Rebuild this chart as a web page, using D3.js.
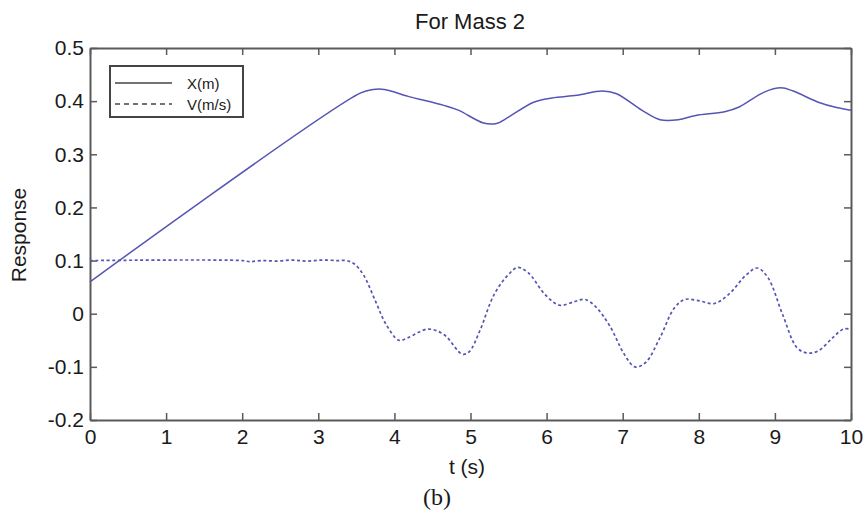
<!DOCTYPE html>
<html>
<head>
<meta charset="utf-8">
<script src="https://cdn.jsdelivr.net/npm/d3@7"></script>
<style>
  html, body { margin: 0; padding: 0; background: #fff; }
  svg { display: block; }
  text { font-family: "Liberation Sans", Arial, sans-serif; fill: #1a1a1a; }
</style>
</head>
<body>
<svg id="chart" width="864" height="521"></svg>
<script>
// Time samples and responses for mass 2
const dispT = [0, 3.55, 3.72, 3.87, 4.18, 4.65, 4.84, 5.17, 5.34, 5.50, 5.83, 6.07, 6.40, 6.73, 6.92, 7.25, 7.49, 7.73, 7.96, 8.34, 8.53, 8.86, 9.08, 9.24, 9.57, 9.81, 10];
const dispX = [0.06, 0.415, 0.422, 0.422, 0.409, 0.392, 0.383, 0.359, 0.358, 0.370, 0.398, 0.406, 0.411, 0.419, 0.414, 0.383, 0.365, 0.365, 0.373, 0.380, 0.389, 0.417, 0.425, 0.419, 0.398, 0.388, 0.383];

const velT = [0, 2.0, 2.1, 2.25, 2.45, 2.65, 2.85, 3.05, 3.25, 3.37, 3.47, 3.59, 3.75, 3.89, 4.06, 4.18, 4.44, 4.65, 4.89, 4.98, 5.12, 5.31, 5.50, 5.62, 5.76, 5.98, 6.17, 6.36, 6.50, 6.64, 6.83, 7.02, 7.16, 7.30, 7.49, 7.68, 7.82, 8.01, 8.20, 8.39, 8.63, 8.77, 8.91, 9.10, 9.29, 9.43, 9.57, 9.76, 9.90, 10];
const velV = [0.1, 0.1, 0.098, 0.1, 0.099, 0.101, 0.099, 0.101, 0.1, 0.1, 0.094, 0.074, 0.024, -0.020, -0.050, -0.045, -0.029, -0.039, -0.076, -0.072, -0.033, 0.036, 0.074, 0.087, 0.077, 0.036, 0.016, 0.0225, 0.027, 0.014, -0.023, -0.076, -0.100, -0.092, -0.045, 0.011, 0.027, 0.024, 0.019, 0.036, 0.074, 0.086, 0.0675, -0.001, -0.064, -0.074, -0.070, -0.045, -0.029, -0.029];

const xTicks = [0, 1, 2, 3, 4, 5, 6, 7, 8, 9, 10];
const yTicks = [-0.2, -0.1, 0, 0.1, 0.2, 0.3, 0.4, 0.5];
const seriesNames = ["X(m)", "V(m/s)"];

const lineColor = "#5555b5";
const axisColor = "#5a5a5a";

const svg = d3.select("#chart");
svg.append("rect").attr("width", 864).attr("height", 521).attr("fill", "#fff");

const plot = { left: 90, right: 851, top: 48, bottom: 420 };

const x = d3.scaleLinear().domain([0, 10]).range([plot.left, plot.right]);
const y = d3.scaleLinear().domain([-0.2, 0.5]).range([plot.bottom, plot.top]);

const fmt = d => (Math.round(d * 10) / 10).toString();

// Axes with inward ticks on all four sides
function styleAxis(g) {
  g.selectAll("path.domain").attr("stroke", axisColor).attr("stroke-width", 2);
  g.selectAll(".tick line").attr("stroke", axisColor).attr("stroke-width", 1.5);
  g.selectAll(".tick text").attr("font-size", 21).attr("font-family", "Liberation Sans, Arial, sans-serif").attr("fill", "#1a1a1a");
}

svg.append("g").attr("transform", `translate(0,${plot.bottom})`)
  .call(d3.axisBottom(x).tickValues(xTicks).tickFormat(fmt).tickSizeInner(-7).tickSizeOuter(0).tickPadding(9))
  .call(styleAxis);
svg.append("g").attr("transform", `translate(0,${plot.top})`)
  .call(d3.axisTop(x).tickValues(xTicks).tickFormat("").tickSizeInner(-7).tickSizeOuter(0))
  .call(styleAxis);
svg.append("g").attr("transform", `translate(${plot.left},0)`)
  .call(d3.axisLeft(y).tickValues(yTicks).tickFormat(fmt).tickSizeInner(-7).tickSizeOuter(0).tickPadding(6))
  .call(styleAxis);
svg.append("g").attr("transform", `translate(${plot.right},0)`)
  .call(d3.axisRight(y).tickValues(yTicks).tickFormat("").tickSizeInner(-7).tickSizeOuter(0))
  .call(styleAxis);

// Response curves
const line = d3.line().x(d => x(d[0])).y(d => y(d[1])).curve(d3.curveCatmullRom.alpha(0.5));

svg.append("path")
  .datum(dispT.map((t, i) => [t, dispX[i]]))
  .attr("d", line)
  .attr("fill", "none").attr("stroke", lineColor).attr("stroke-width", 1.5);

svg.append("path")
  .datum(velT.map((t, i) => [t, velV[i]]))
  .attr("d", line)
  .attr("fill", "none").attr("stroke", lineColor).attr("stroke-width", 1.7)
  .attr("stroke-dasharray", "3,2.6");

// Legend
const lg = svg.append("g");
lg.append("rect").attr("x", 110).attr("y", 66).attr("width", 133).attr("height", 51)
  .attr("fill", "#fff").attr("stroke", "#444").attr("stroke-width", 2);
const dashes = [null, "5,4"];
seriesNames.forEach((name, i) => {
  const yy = 83 + i * 21;
  lg.append("line").attr("x1", 115).attr("x2", 172).attr("y1", yy).attr("y2", yy)
    .attr("stroke", "#444").attr("stroke-width", 1.3)
    .attr("stroke-dasharray", dashes[i]);
  lg.append("text").attr("x", 187).attr("y", yy + 5.5).attr("font-size", 15).text(name);
});

// Titles and labels
svg.append("text").attr("x", 470).attr("y", 29).attr("text-anchor", "middle")
  .attr("font-size", 22).text("For Mass 2");
svg.append("text").attr("x", 467).attr("y", 474).attr("text-anchor", "middle")
  .attr("font-size", 21).text("t (s)");
svg.append("text").attr("transform", "translate(26,235) rotate(-90)").attr("text-anchor", "middle")
  .attr("font-size", 21).text("Response");
svg.append("text").attr("x", 437).attr("y", 505).attr("text-anchor", "middle")
  .attr("font-size", 24).style("font-family", "Liberation Serif, Times New Roman, serif").text("(b)");
</script>
</body>
</html>
